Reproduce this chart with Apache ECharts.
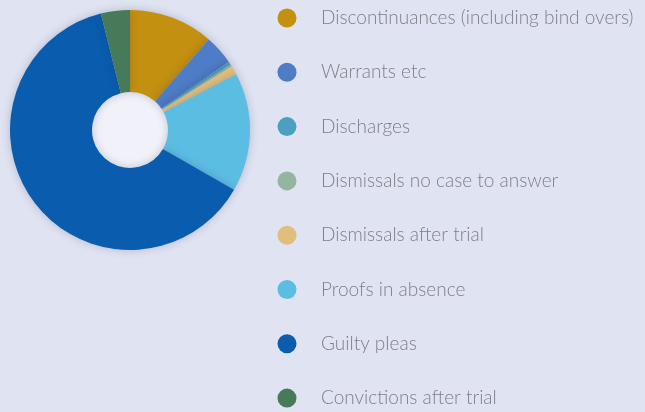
<!DOCTYPE html>
<html lang="en">
<head>
    <meta charset="utf-8">
    <title>Outcomes</title>
    <script src="https://cdn.jsdelivr.net/npm/echarts@6/dist/echarts.min.js"></script>
    <style>
        html, body { margin: 0; padding: 0; background: #e0e3f2; }
        #main { width: 645px; height: 412px; }
    </style>
</head>
<body>
<div id="main"></div>
<script>
    // outcome categories and share (%)
    var categories = ['Discontinuances (including bind overs)', 'Warrants etc', 'Discharges',
        'Dismissals no case to answer', 'Dismissals after trial', 'Proofs in absence',
        'Guilty pleas', 'Convictions after trial'];
    var shares = [11.4, 4.0, 0.4, 0.3, 1.2, 16.0, 62.8, 3.9];
    var colors = ['#c4900f', '#4f7cc6', '#4b9fc0', '#94b6a0', '#e0bf7c', '#5cbde3', '#0a5caf', '#477a58'];

    var pieData = [];
    for (var i = 0; i < categories.length; i++) {
        pieData.push({name: categories[i], value: shares[i], itemStyle: {color: colors[i]}});
    }

    var myChart = echarts.init(document.getElementById('main'));

    var option = {
        backgroundColor: '#e0e3f2',
        animation: false,
        // lighter hole in the middle of the donut
        graphic: [{
            type: 'circle',
            shape: {cx: 130, cy: 130, r: 39},
            style: {fill: '#f1f2f9'},
            z: -1
        }],
        legend: {
            orient: 'vertical',
            left: 277.5,
            top: 8.5,
            height: 403,
            icon: 'circle',
            itemWidth: 19,
            itemHeight: 19,
            itemGap: 35.3,
            padding: 0,
            selectedMode: false,
            textStyle: {
                fontFamily: 'Lato',
                fontWeight: 300,
                fontSize: 19,
                color: '#7e7f88',
                padding: [0, 0, 0, 19.5]
            },
            data: categories
        },
        series: [{
            type: 'pie',
            center: [130, 130],
            radius: [38, 120],
            startAngle: 90,
            clockwise: true,
            label: {show: false},
            labelLine: {show: false},
            emphasis: {disabled: true},
            itemStyle: {
                shadowBlur: 8,
                shadowColor: 'rgba(40, 50, 90, 0.25)'
            },
            data: pieData
        }]
    };

    myChart.setOption(option);
</script>
</body>
</html>
